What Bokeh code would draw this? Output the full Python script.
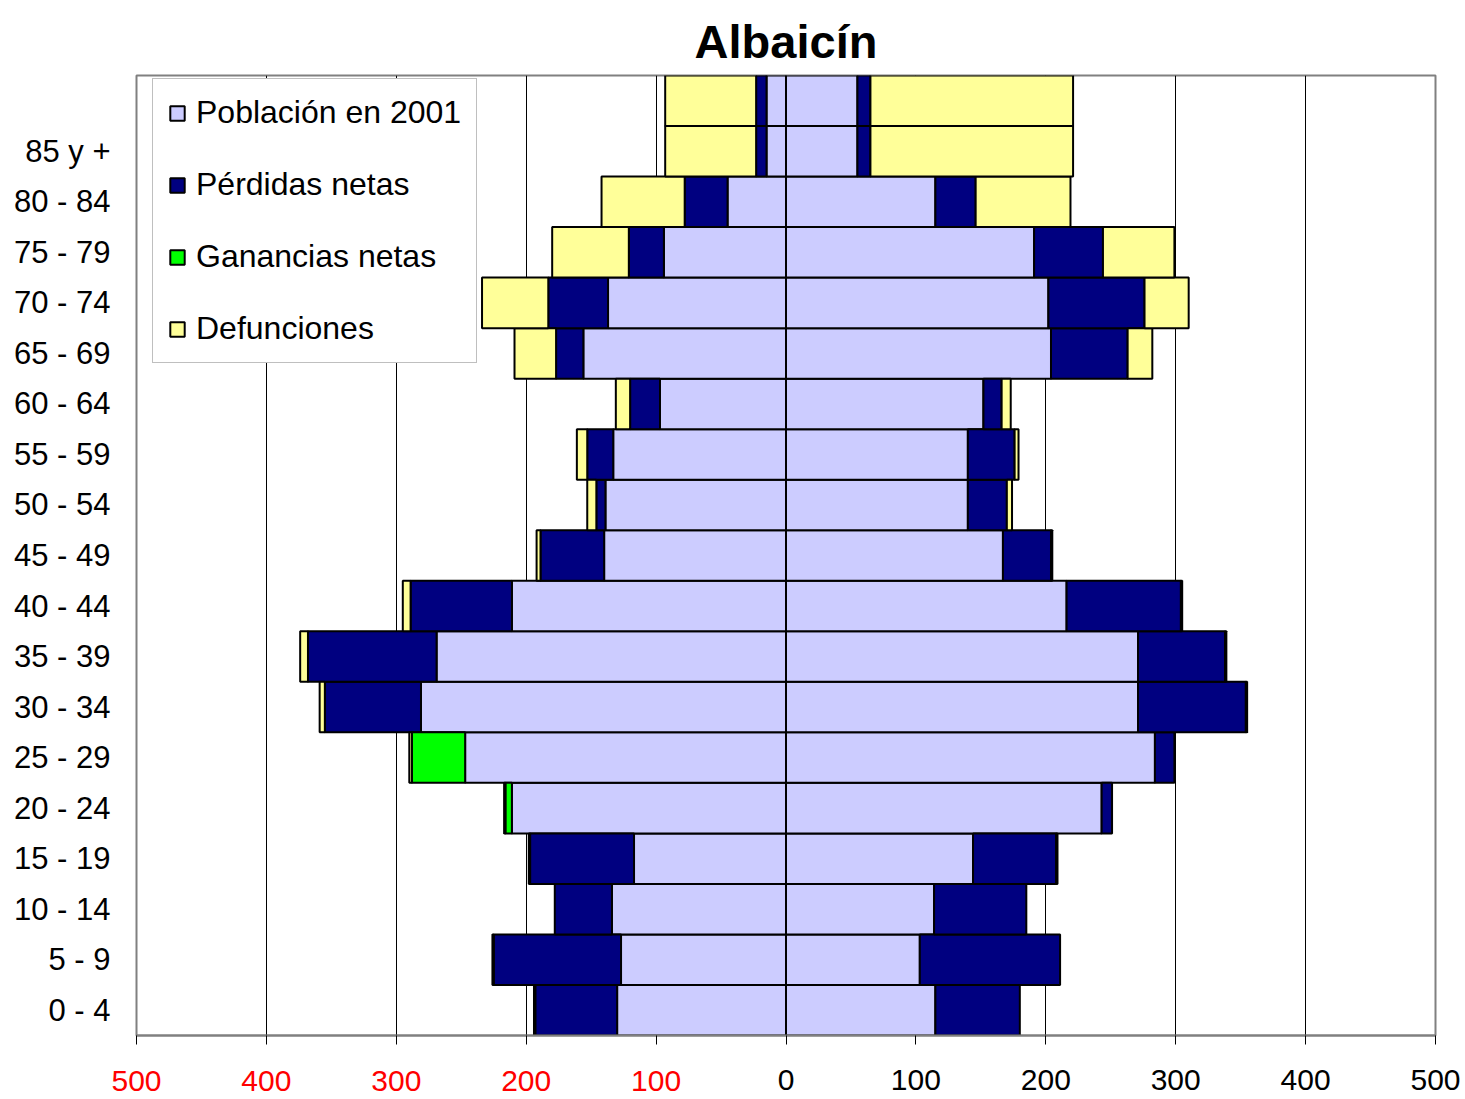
from bokeh.plotting import figure
from bokeh.models import (FixedTicker, ColumnDataSource, Legend, LegendItem,
                          LinearAxis, Range1d)
from bokeh.embed import file_html
from bokeh.resources import INLINE

# ---------------- data (bottom row first) ----------------
ages = ["0 - 4", "5 - 9", "10 - 14", "15 - 19", "20 - 24", "25 - 29", "30 - 34",
        "35 - 39", "40 - 44", "45 - 49", "50 - 54", "55 - 59", "60 - 64",
        "65 - 69", "70 - 74", "75 - 79", "80 - 84", "85 y +", ""]

# left side (drawn to the left of 0)
poblacion_izq = [130, 127, 134, 117, 211, 247, 281, 269, 211, 140, 139, 133, 97,
                 156, 137, 94, 45, 15, 15]
perdidas_izq = [63, 98, 44, 80, 0, 0, 74, 99, 78, 49, 7, 20, 23,
                21, 46, 27, 33, 8, 8]
ganancias_izq = [0, 0, 0, 0, 5, 41, 0, 0, 0, 0, 0, 0, 0,
                 0, 0, 0, 0, 0, 0]
defunciones_izq = [1, 1, 0, 1, 1, 2, 4, 6, 6, 3, 7, 8, 11,
                   32, 51, 59, 64, 70, 70]

# right side
poblacion_der = [115, 103, 114, 144, 243, 284, 271, 271, 216, 167, 140, 140, 152,
                 204, 202, 191, 115, 55, 55]
perdidas_der = [65, 108, 71, 64, 8, 15, 83, 67, 88, 37, 30, 36, 14,
                59, 74, 53, 31, 10, 10]
ganancias_der = [0, 0, 0, 0, 0, 0, 0, 0, 0, 0, 0, 0, 0,
                 0, 0, 0, 0, 0, 0]
defunciones_der = [0, 0, 0, 1, 0, 0, 1, 1, 1, 1, 4, 3, 7,
                   19, 34, 55, 73, 156, 156]

series_names = ["Población en 2001", "Pérdidas netas", "Ganancias netas", "Defunciones"]
series_colors = ["#CCCCFF", "#000080", "#00FF00", "#FFFF99"]

x_ticks_neg = [-500, -400, -300, -200, -100]
x_labels_neg = ["500", "400", "300", "200", "100"]
x_ticks_pos = [0, 100, 200, 300, 400, 500]
x_labels_pos = ["0", "100", "200", "300", "400", "500"]

title_text = "Albaicín"

# ---------------- figure ----------------
FRAME_W, FRAME_H = 1299, 960
y_lo, y_hi = -0.5, len(ages) - 0.5
all_ticks = x_ticks_neg + x_ticks_pos

p = figure(frame_width=FRAME_W, frame_height=FRAME_H,
           x_range=Range1d(-500, 500), y_range=Range1d(y_lo, y_hi),
           output_backend="svg", toolbar_location=None,
           min_border_left=136, min_border_right=30,
           min_border_top=75, min_border_bottom=64,
           background_fill_color="white", border_fill_color="white")

p.title.text = title_text
p.title.align = "center"
p.title.vertical_align = "top"
p.title.text_font = "Liberation Sans"
p.title.text_font_size = "47px"
p.title.text_font_style = "bold"
p.title.text_color = "black"
p.title.standoff = 12

p.outline_line_color = "#808080"
p.outline_line_width = 2

# grid
p.xgrid.ticker = FixedTicker(ticks=all_ticks)
p.xgrid.grid_line_color = "black"
p.xgrid.grid_line_width = 1
p.ygrid.grid_line_color = None

# main x axis: all ticks, black labels on positive side
ax = p.xaxis[0]
ax.ticker = FixedTicker(ticks=all_ticks)
ax.major_label_overrides = dict(
    [(t, "") for t in x_ticks_neg] + list(zip(x_ticks_pos, x_labels_pos)))
ax.axis_line_color = "#808080"
ax.axis_line_width = 2
ax.major_tick_line_color = "black"
ax.major_tick_out = 9
ax.major_tick_in = 0
ax.minor_tick_line_color = None
ax.major_label_text_font = "Liberation Sans"
ax.major_label_text_font_size = "30px"
ax.major_label_text_color = "black"
ax.major_label_standoff = 25

# second x axis: red labels for the left side, pulled up onto the same row
ax_red = LinearAxis(ticker=FixedTicker(ticks=x_ticks_neg),
                    major_label_overrides=dict(zip(x_ticks_neg, x_labels_neg)),
                    axis_line_color=None, major_tick_line_color=None,
                    minor_tick_line_color=None, major_tick_out=0, major_tick_in=0,
                    major_label_text_font="Liberation Sans",
                    major_label_text_font_size="30px",
                    major_label_text_color="#FF0000",
                    major_label_standoff=-22)
p.add_layout(ax_red, "below")

# y axis
p.yaxis.ticker = FixedTicker(ticks=list(range(len(ages) - 1)))
p.yaxis.major_label_overrides = {i: a for i, a in enumerate(ages)}
p.yaxis.axis_line_color = None
p.yaxis.major_tick_line_color = None
p.yaxis.minor_tick_line_color = None
p.yaxis.major_label_text_font = "Liberation Sans"
p.yaxis.major_label_text_font_size = "31px"
p.yaxis.major_label_text_color = "black"
p.yaxis.major_label_standoff = 20

# ---------------- bars ----------------
left_series = [poblacion_izq, perdidas_izq, ganancias_izq, defunciones_izq]
right_series = [poblacion_der, perdidas_der, ganancias_der, defunciones_der]

renderers = []
for side, all_series in ((-1, left_series), (1, right_series)):
    cum = [0] * len(ages)
    side_r = []
    for vals, color in zip(all_series, series_colors):
        ys, ls, rs = [], [], []
        for i, v in enumerate(vals):
            if v > 0:
                a, b = cum[i], cum[i] + v
                ys.append(i)
                if side < 0:
                    ls.append(-b); rs.append(-a)
                else:
                    ls.append(a); rs.append(b)
            cum[i] += v
        src = ColumnDataSource(dict(y=ys, left=ls, right=rs))
        r = p.hbar(y="y", left="left", right="right", height=1.0, source=src,
                   fill_color=color, line_color="black", line_width=2)
        side_r.append(r)
    renderers.append(side_r)

# ---------------- legend ----------------
items = [LegendItem(label=n, renderers=[renderers[0][k]])
         for k, n in enumerate(series_names)]
legend = Legend(items=items, location=(16, 672),
                label_text_font="Liberation Sans", label_text_font_size="32px",
                label_text_color="black", glyph_width=18, glyph_height=18,
                label_height=36, spacing=35, padding=15, label_standoff=10,
                border_line_color="#808080", border_line_width=1,
                background_fill_color="white", background_fill_alpha=1.0,
                margin=0)
p.add_layout(legend)

open("out.html", "w").write(file_html(p, INLINE))
